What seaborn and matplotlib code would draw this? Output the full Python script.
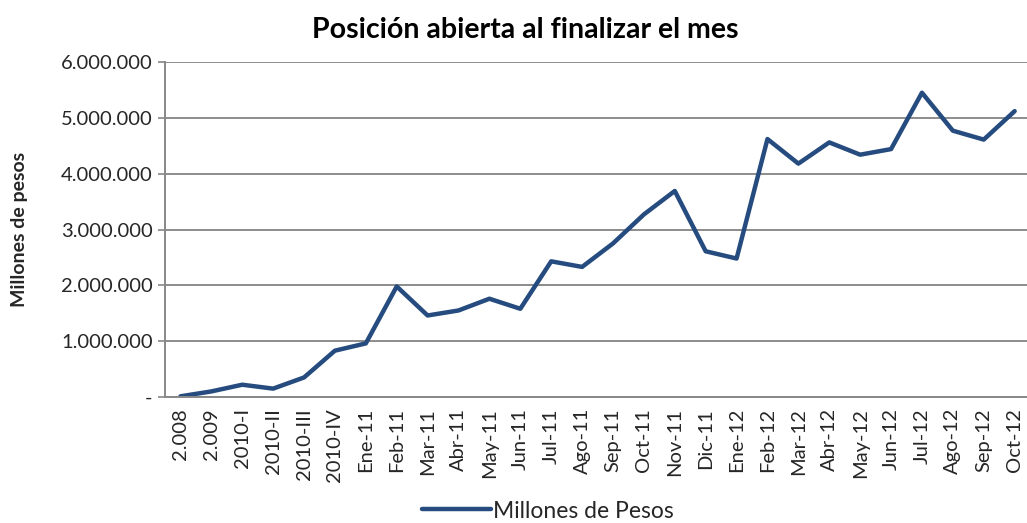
import matplotlib
matplotlib.use("Agg")
import matplotlib.pyplot as plt
import seaborn as sns
import pandas as pd
from matplotlib.ticker import FuncFormatter, FixedLocator

categories = ["2.008", "2.009", "2010-I", "2010-II", "2010-III", "2010-IV",
              "Ene-11", "Feb-11", "Mar-11", "Abr-11", "May-11", "Jun-11",
              "Jul-11", "Ago-11", "Sep-11", "Oct-11", "Nov-11", "Dic-11",
              "Ene-12", "Feb-12", "Mar-12", "Abr-12", "May-12", "Jun-12",
              "Jul-12", "Ago-12", "Sep-12", "Oct-12"]
values = [12000, 100000, 220000, 150000, 350000, 830000,
          960000, 1980000, 1460000, 1550000, 1760000, 1580000,
          2430000, 2330000, 2750000, 3270000, 3690000, 2610000,
          2480000, 4620000, 4180000, 4560000, 4340000, 4440000,
          5450000, 4770000, 4610000, 5120000]
yticks = [0, 1000000, 2000000, 3000000, 4000000, 5000000, 6000000]

df = pd.DataFrame({"cat": categories, "val": values, "idx": range(len(categories))})

sns.set_theme(style="white")
plt.rcParams['font.family'] = ['Lato', 'DejaVu Sans']

fig = plt.figure(figsize=(10.27, 5.23), dpi=100)
ax = fig.add_axes([165/1027, 1 - 397/523, (1027 - 165)/1027, (397 - 62)/523])

line_color = "#254B7F"
sns.lineplot(data=df, x="idx", y="val", ax=ax, color=line_color, linewidth=3.2,
             label="Millones de Pesos", legend=False)

ax.set_xlim(-0.5, 27.4)
ax.set_ylim(0, 6000000)
ax.yaxis.set_major_locator(FixedLocator(yticks))
ax.set_xticks(range(len(categories)))
ax.set_xticklabels(categories, rotation=90, fontsize=14.5)

def fmt(v, pos):
    if v == 0:
        return "-"
    return f"{int(v):,}".replace(",", ".")
ax.yaxis.set_major_formatter(FuncFormatter(fmt))
ax.tick_params(axis="y", labelsize=14.5, length=5, color="#888888", width=1.2, left=True, pad=4)
ax.tick_params(axis="x", length=0, pad=8)

ax.grid(axis="y", color="#8c8c8c", linewidth=1.4)
ax.set_axisbelow(True)
for s in ["top", "right"]:
    ax.spines[s].set_visible(False)
for s in ["left", "bottom"]:
    ax.spines[s].set_color("#888888")
    ax.spines[s].set_linewidth(1.4)

ax.set_xlabel("")
ax.set_ylabel("Millones de pesos", fontsize=14, fontweight="bold")
ax.yaxis.set_label_coords((28 - 165) / 862, 0.5)

fig.text(525/1027, 1 - 30/523, "Posición abierta al finalizar el mes", ha="center", va="center",
         fontsize=20.5, fontweight="bold", color="#000000")

handles, labels = ax.get_legend_handles_labels()
fig.legend(handles, labels, loc="center", bbox_to_anchor=(548/1027, 1 - 511/523), frameon=False,
           fontsize=16.5, handlelength=3.0, handletextpad=0.1)

fig.savefig("out.png", dpi=100)
